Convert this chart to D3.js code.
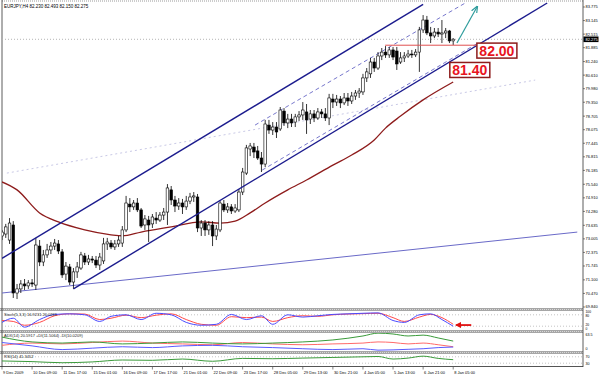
<!DOCTYPE html>
<html>
<head>
<meta charset="utf-8">
<script src="https://cdn.jsdelivr.net/npm/d3@7"></script>
<style>
  body { margin: 0; background: #fff; }
  svg { display: block; font-family: "Liberation Sans", Arial, sans-serif; }
</style>
</head>
<body>
<script>
// ---- data ----
var title = "EURJPY,H4  82.230 82.493 82.150 82.275";
var lastPrice = 82.275;
var priceTicks = [83.775, 83.145, 82.515, 81.885, 81.240, 80.610, 79.980, 79.350, 78.705, 78.075, 77.445,
    76.815, 76.185, 75.540, 74.910, 74.280, 73.635, 73.005, 72.375, 71.745, 71.100, 70.470, 69.840];
var timeLabels = ["9 Dec 2009", "10 Dec 09:00", "11 Dec 17:00", "15 Dec 01:00", "16 Dec 09:00", "17 Dec 17:00",
    "21 Dec 01:00", "22 Dec 09:00", "23 Dec 17:00", "28 Dec 05:00", "29 Dec 13:00", "30 Dec 21:00",
    "4 Jan 05:00", "5 Jan 13:00", "6 Jan 21:00", "8 Jan 05:00"];
var barsPerLabel = 8;

// open, high, low, close
var candles = [
  [73.14,73.42,72.95,73.32],[73.23,73.70,73.05,73.56],[72.95,73.97,72.77,73.74],[73.65,73.83,70.26,70.49],
  [70.49,70.91,70.21,70.68],[70.68,71.09,70.49,70.91],[70.91,71.14,70.63,70.82],[70.82,71.09,70.68,70.96],
  [70.96,71.14,70.77,70.91],[70.86,73.05,70.63,72.72],[72.67,72.95,71.74,71.93],[71.93,72.49,71.74,72.26],
  [72.26,72.77,72.12,72.49],[72.49,72.86,72.30,72.67],[72.67,73.00,72.49,72.81],[72.77,72.95,72.30,72.44],
  [72.40,72.53,71.19,71.33],[71.37,71.93,71.09,71.74],[71.70,71.84,70.86,71.00],[71.00,71.65,70.68,71.47],
  [71.47,71.93,71.19,71.70],[71.65,72.40,71.56,72.26],[72.21,72.35,71.79,71.93],[71.93,72.26,71.79,72.07],
  [72.07,72.21,71.88,72.02],[72.02,72.21,71.65,71.79],[71.79,72.35,71.56,72.16],[71.98,73.05,71.84,72.77],
  [72.77,73.05,72.49,72.86],[72.81,72.95,72.53,72.63],[72.63,72.95,72.49,72.77],[72.77,73.14,72.63,72.95],
  [72.81,73.60,72.63,73.42],[73.42,75.00,73.32,74.67],[74.62,74.90,74.25,74.49],[74.49,74.81,74.35,74.67],
  [74.67,74.90,74.25,74.35],[74.35,74.44,73.51,73.60],[73.65,74.11,73.42,73.93],[73.88,74.07,72.86,73.65],
  [73.70,74.16,73.51,74.02],[73.97,74.25,73.70,73.88],[73.88,74.25,73.79,74.11],[74.11,74.44,73.88,74.25],
  [74.25,75.55,73.65,75.37],[75.28,75.46,74.58,74.81],[74.81,75.00,74.25,74.53],[74.53,74.90,74.35,74.67],
  [74.67,74.86,74.16,74.49],[74.49,75.00,74.35,74.76],[74.76,75.14,74.62,74.95],[74.95,75.18,74.72,75.00],
  [74.95,75.09,73.32,73.51],[73.51,73.88,73.14,73.74],[73.74,73.88,73.14,73.42],[73.42,73.83,73.19,73.65],
  [73.65,73.83,72.67,73.14],[73.14,73.65,72.95,73.46],[73.42,74.81,73.32,74.67],[74.62,74.81,74.25,74.35],
  [74.35,74.67,74.21,74.49],[74.49,74.62,74.16,74.30],[74.30,74.62,74.21,74.44],[74.35,75.32,74.25,75.18],
  [75.18,76.30,75.04,76.11],[76.06,77.37,75.97,77.23],[77.18,77.46,76.85,77.32],[77.27,77.46,76.76,77.04],
  [77.09,77.32,76.67,76.76],[76.76,77.04,76.11,76.48],[76.48,78.53,76.34,78.34],[78.29,78.53,77.88,78.06],
  [78.06,78.43,77.83,78.20],[78.20,78.43,77.69,77.97],[78.11,79.13,78.02,78.99],[78.94,79.08,78.25,78.39],
  [78.39,78.81,78.15,78.57],[78.57,78.81,78.20,78.39],[78.43,78.81,78.20,78.67],[78.67,78.94,78.48,78.76],
  [78.76,79.36,78.53,78.99],[78.90,79.27,77.88,78.53],[78.57,78.99,78.34,78.81],[78.81,78.99,78.43,78.62],
  [78.62,79.08,78.53,78.90],[78.90,79.04,78.62,78.81],[78.81,79.08,78.48,78.62],[78.62,79.74,78.29,79.55],
  [79.50,79.74,79.08,79.36],[79.36,79.69,79.18,79.50],[79.50,79.64,79.08,79.32],[79.32,79.78,79.22,79.55],
  [79.55,79.78,79.18,79.41],[79.41,79.83,79.27,79.64],[79.64,79.92,79.46,79.78],[79.78,80.01,79.55,79.87],
  [79.83,80.67,79.69,80.48],[80.48,80.94,80.29,80.76],[80.67,81.41,80.48,81.22],[81.22,81.41,80.76,80.94],
  [80.94,81.68,80.85,81.50],[81.50,81.87,81.31,81.68],[81.68,81.96,81.41,81.55],[81.55,81.92,81.41,81.78],
  [81.78,81.92,81.31,81.45],[81.73,81.92,80.85,81.13],[81.22,81.68,81.13,81.41],[81.41,81.68,81.22,81.50],
  [81.50,81.78,81.41,81.59],[81.59,81.78,81.41,81.55],[81.55,81.82,81.45,81.68],[81.68,82.85,80.76,82.71],
  [82.71,83.40,82.57,83.17],[83.17,83.36,82.47,82.57],[82.57,82.85,82.10,82.43],[82.43,82.80,82.33,82.61],
  [82.61,82.80,82.38,82.52],[82.52,83.17,82.10,82.57],[82.57,82.80,82.33,82.66],[82.66,82.71,82.10,82.20],
  [82.20,82.33,82.01,82.28]
];

// moving average, [bar, price]
var maPoints = [[0,75.65],[4,75.28],[10,74.21],[15,73.79],[22,73.42],[29,73.19],[32,73.14],[37,73.32],
  [45,73.56],[53,73.79],[58,73.74],[62,73.83],[66,74.21],[70,74.67],[76,75.28],[81,75.74],[88,76.43],
  [93,76.90],[99,77.60],[102,78.15],[106,78.71],[112,79.46],[120,80.29]];

// drawn objects, [bar, price] end points
var channelUpper = [[0,72.10],[112,83.90]];
var channelLower = [[19,70.68],[145,83.96]];
var innerUpper = [[67.3,78.29],[123.2,83.96]];
var innerLower = [[69.2,76.20],[126.6,82.10]];
var longLine = [[0,70.49],[153,73.32]];
var faintLine = [[1.3,76.06],[141.8,80.38]];
var level82 = [[101.9,82.00],[126.3,82.00]];
var upArrow = [[121.0,82.10],[126.4,83.80]];
var levelLabels = [{ text: "82.00", bar: 126.3, price: 81.75 }, { text: "81.40", bar: 119.1, price: 80.85 }];

// indicators
var stochLabel = "Stoch(5,3,3) 16.9231 26.0269";
var stochBars = [0,3,6,10,14,18,22,26,29,33,37,41,45,49,53,57,61,65,69,72,76,80,84,88,92,96,100,104,107,111,114,117,120];
var stochMain = [40,62,15,55,82,85,80,45,72,80,55,88,80,40,25,30,82,55,75,30,80,68,75,82,85,88,90,50,40,80,85,55,20];
var stochSignal = [50,45,25,40,75,85,84,55,62,78,65,78,85,55,30,25,70,65,68,45,65,75,72,80,84,86,88,65,45,68,82,65,30];
var stochLevels = [80, 20];
var stochArrow = [[124.8,26],[120.8,26]];

var adxLabel = "ADX(14) 20.5917 +DI(11.5064) -DI(10.0209)";
var adxBars = [0,8,16,24,32,40,48,56,64,72,80,88,96,100,104,108,112,116,120];
var adxMain = [49,32,28,32,25,28,32,28,25,28,32,39,53,63,60,53,56,46,35];
var plusDI = [20,28,25,30,35,28,25,22,30,25,22,25,28,32,30,25,28,22,15];
var minusDI = [30,18,5,10,15,12,18,20,15,12,8,5,8,3,4,6,8,12,14];

var rsiLabel = "RSI(14) 41.3452";
var rsiBars = [0,8,16,24,32,40,48,56,64,72,80,88,96,100,104,108,112,116,120];
var rsiVals = [44,40,33,38,50,48,56,42,60,58,62,66,70,72,56,62,74,60,52];
var rsiLevels = [70, 30];

// ---- layout ----
var width = 600, height = 376;
var left = 2, right = 583;

var svg = d3.select("body").append("svg")
    .attr("width", width)
    .attr("height", height);

var x = d3.scaleLinear().domain([0, 120]).range([2, 453.2]);
var y = d3.scaleLinear().domain([69.84, 83.775]).range([307, 7]);
var yStoch = d3.scaleLinear().domain([0, 100]).range([330, 311]);
var yAdx = d3.scaleLinear().domain([0, 63.5]).range([351, 333]);
var yRsi = d3.scaleLinear().domain([0, 100]).range([368, 352]);

// clip paths for panels
var defs = svg.append("defs");
function clip(id, y0, y1) {
    defs.append("clipPath").attr("id", id).append("rect")
        .attr("x", left).attr("y", y0).attr("width", right - left).attr("height", y1 - y0);
}
clip("cMain", 2, 308);
clip("cStoch", 311, 330);
clip("cAdx", 333, 351);
clip("cRsi", 354, 366);

defs.append("marker").attr("id", "headTeal").attr("viewBox", "0 0 10 10")
    .attr("refX", 9).attr("refY", 5).attr("markerWidth", 6).attr("markerHeight", 6)
    .attr("orient", "auto")
    .append("path").attr("d", "M0,1 L10,5 L0,9").attr("fill", "none")
    .attr("stroke", "#2e9c9c").attr("stroke-width", 1.6);
defs.append("marker").attr("id", "headRed").attr("viewBox", "0 0 10 10")
    .attr("refX", 8).attr("refY", 5).attr("markerWidth", 3.5).attr("markerHeight", 3.5)
    .attr("orient", "auto")
    .append("path").attr("d", "M0,0 L10,5 L0,10 Z").attr("fill", "#e01010");

// frames and separators
svg.append("line").attr("x1", left).attr("x2", right).attr("y1", 1).attr("y2", 1)
    .attr("stroke", "#999").attr("stroke-dasharray", "1,1");
[308, 330, 351].forEach(function (sy) {
    svg.append("rect").attr("x", 0).attr("y", sy).attr("width", right).attr("height", 3)
        .attr("fill", "#a6a6a6");
    svg.append("line").attr("x1", 0).attr("x2", right).attr("y1", sy + 1.5).attr("y2", sy + 1.5)
        .attr("stroke", "#d8d8d8").attr("stroke-dasharray", "1,1");
});
svg.append("line").attr("x1", 0).attr("x2", right).attr("y1", 366.5).attr("y2", 366.5)
    .attr("stroke", "#555").attr("stroke-width", 1);
svg.append("line").attr("x1", left).attr("x2", left).attr("y1", 0).attr("y2", 367)
    .attr("stroke", "#333").attr("stroke-width", 0.8);
svg.append("line").attr("x1", right).attr("x2", right).attr("y1", 0).attr("y2", 367)
    .attr("stroke", "#333").attr("stroke-width", 0.8);

// ---- main panel ----
var main = svg.append("g").attr("clip-path", "url(#cMain)");

main.append("line")
    .attr("x1", left).attr("x2", right)
    .attr("y1", y(lastPrice)).attr("y2", y(lastPrice))
    .attr("stroke", "#b4b4b4").attr("stroke-dasharray", "1,2");

var seg = d3.line().x(function (d) { return x(d[0]); }).y(function (d) { return y(d[1]); });

var drawn = [
    { pts: faintLine, color: "#c9c9e6", w: 1, dash: "2,3" },
    { pts: longLine, color: "#6a6ac8", w: 1, dash: null },
    { pts: innerUpper, color: "#7777cc", w: 1, dash: "4,3" },
    { pts: innerLower, color: "#7777cc", w: 1, dash: "4,3" }
];
drawn.forEach(function (l) {
    main.append("path").attr("d", seg(l.pts)).attr("fill", "none")
        .attr("stroke", l.color).attr("stroke-width", l.w)
        .attr("stroke-dasharray", l.dash);
});

main.append("path")
    .attr("d", seg.curve(d3.curveMonotoneX)(maPoints))
    .attr("fill", "none").attr("stroke", "#8e1c1c").attr("stroke-width", 1.3);
seg.curve(d3.curveLinear);

var bars = candles.map(function (c, i) { return { i: i, o: c[0], h: c[1], l: c[2], c: c[3] }; });

main.selectAll("line.wick").data(bars).enter().append("line")
    .attr("class", "wick")
    .attr("x1", function (d) { return x(d.i); })
    .attr("x2", function (d) { return x(d.i); })
    .attr("y1", function (d) { return y(d.h); })
    .attr("y2", function (d) { return y(d.l); })
    .attr("stroke", "#000").attr("stroke-width", 0.8);

main.selectAll("rect.body").data(bars).enter().append("rect")
    .attr("class", "body")
    .attr("x", function (d) { return x(d.i) - 1.3; })
    .attr("width", 2.6)
    .attr("y", function (d) { return y(Math.max(d.o, d.c)); })
    .attr("height", function (d) { return Math.max(0.8, Math.abs(y(d.o) - y(d.c))); })
    .attr("fill", function (d) { return d.c >= d.o ? "#fff" : "#000"; })
    .attr("stroke", "#000").attr("stroke-width", 0.6);

[channelUpper, channelLower].forEach(function (pts) {
    main.append("path").attr("d", seg(pts)).attr("fill", "none")
        .attr("stroke", "#1c1c8e").attr("stroke-width", 1.4);
});

main.append("path").attr("d", seg(level82)).attr("fill", "none")
    .attr("stroke", "#e05050").attr("stroke-width", 1);

main.append("path").attr("d", seg(upArrow)).attr("fill", "none")
    .attr("stroke", "#2e9c9c").attr("stroke-width", 1.2)
    .attr("marker-end", "url(#headTeal)");

levelLabels.forEach(function (lb) {
    var g = main.append("g").attr("transform", "translate(" + x(lb.bar) + "," + y(lb.price) + ")");
    g.append("rect").attr("x", 0).attr("y", -7.5).attr("width", 40).attr("height", 15)
        .attr("fill", "#fff").attr("stroke", "#8e1c1c").attr("stroke-width", 1.5);
    g.append("text").attr("x", 20).attr("y", 5).attr("text-anchor", "middle")
        .attr("font-size", 14).attr("font-weight", "bold").attr("fill", "#e8141e")
        .text(lb.text);
});

svg.append("text").attr("x", 4).attr("y", 8).attr("font-size", 4.5).attr("fill", "#000").text(title);

// price axis
var pAxis = svg.append("g");
priceTicks.forEach(function (p) {
    pAxis.append("line").attr("x1", right).attr("x2", right + 2).attr("y1", y(p)).attr("y2", y(p))
        .attr("stroke", "#333").attr("stroke-width", 0.6);
    pAxis.append("text").attr("x", right + 2.5).attr("y", y(p) + 1.4)
        .attr("font-size", 4).attr("fill", "#000").text(p.toFixed(3));
});
pAxis.append("rect").attr("x", right + 0.5).attr("y", y(lastPrice) - 2.8)
    .attr("width", 15).attr("height", 5.6).attr("fill", "#000");
pAxis.append("text").attr("x", right + 2.5).attr("y", y(lastPrice) + 1.4)
    .attr("font-size", 4).attr("fill", "#fff").text(lastPrice.toFixed(3));

// ---- stochastic ----
var st = svg.append("g").attr("clip-path", "url(#cStoch)");
stochLevels.forEach(function (v) {
    st.append("line").attr("x1", left).attr("x2", right).attr("y1", yStoch(v)).attr("y2", yStoch(v))
        .attr("stroke", "#aaa").attr("stroke-dasharray", "1,2").attr("stroke-width", 0.7);
});
function indLine(bs, vs, ys) {
    return d3.line().curve(d3.curveMonotoneX)
        .x(function (d, i) { return x(bs[i]); })
        .y(function (d) { return ys(d); })(vs);
}
st.append("path").attr("d", indLine(stochBars, stochSignal, yStoch)).attr("fill", "none")
    .attr("stroke", "#ff4a4a").attr("stroke-width", 1);
st.append("path").attr("d", indLine(stochBars, stochMain, yStoch)).attr("fill", "none")
    .attr("stroke", "#4a4aff").attr("stroke-width", 1);
st.append("text").attr("x", 4).attr("y", 315.5).attr("font-size", 4).attr("fill", "#222").text(stochLabel);
svg.append("path")
    .attr("d", d3.line().x(function (d) { return x(d[0]); }).y(function (d) { return yStoch(d[1]); })(stochArrow))
    .attr("stroke", "#e01010").attr("stroke-width", 1.8).attr("fill", "none")
    .attr("marker-end", "url(#headRed)");
// right-hand scale labels: [value, text, baseline nudge]
[[100, "100", 2.3], [80, "80", 2.2], [20, "20", 0], [0, "0", -0.2]].forEach(function (t) {
    svg.append("text").attr("x", right + 2.5).attr("y", yStoch(t[0]) + t[2])
        .attr("font-size", 3.3).attr("fill", "#000").text(t[1]);
});

// ---- ADX ----
var ad = svg.append("g").attr("clip-path", "url(#cAdx)");
[[plusDI, "#ff6a6a"], [minusDI, "#5a5aff"], [adxMain, "#3a9a3a"]].forEach(function (s) {
    ad.append("path").attr("d", indLine(adxBars, s[0], yAdx)).attr("fill", "none")
        .attr("stroke", s[1]).attr("stroke-width", 1);
});
ad.append("text").attr("x", 4).attr("y", 337).attr("font-size", 4).attr("fill", "#222").text(adxLabel);
svg.append("text").attr("x", right + 2.5).attr("y", yAdx(63.5) + 3.2).attr("font-size", 3.6).text("63.5");
svg.append("text").attr("x", right + 2.5).attr("y", yAdx(0) - 1.5).attr("font-size", 3.6).text("0");

// ---- RSI ----
var rs = svg.append("g").attr("clip-path", "url(#cRsi)");
rsiLevels.forEach(function (v) {
    rs.append("line").attr("x1", left).attr("x2", right).attr("y1", yRsi(v)).attr("y2", yRsi(v))
        .attr("stroke", "#aaa").attr("stroke-dasharray", "1,2").attr("stroke-width", 0.7);
});
rs.append("path").attr("d", indLine(rsiBars, rsiVals, yRsi)).attr("fill", "none")
    .attr("stroke", "#3a9a3a").attr("stroke-width", 1);
rs.append("text").attr("x", 4).attr("y", 358).attr("font-size", 4).attr("fill", "#222").text(rsiLabel);
rsiLevels.forEach(function (v) {
    svg.append("text").attr("x", right + 2.5).attr("y", yRsi(v) + 1.3).attr("font-size", 3.6).text(v);
});

// ---- time axis ----
timeLabels.forEach(function (t, k) {
    var tx = x(k * barsPerLabel);
    svg.append("line").attr("x1", tx).attr("x2", tx).attr("y1", 367).attr("y2", 369.5)
        .attr("stroke", "#333").attr("stroke-width", 0.6);
    svg.append("text").attr("x", tx + 1).attr("y", 373.5).attr("font-size", 4).attr("fill", "#000").text(t);
});
</script>
</body>
</html>
